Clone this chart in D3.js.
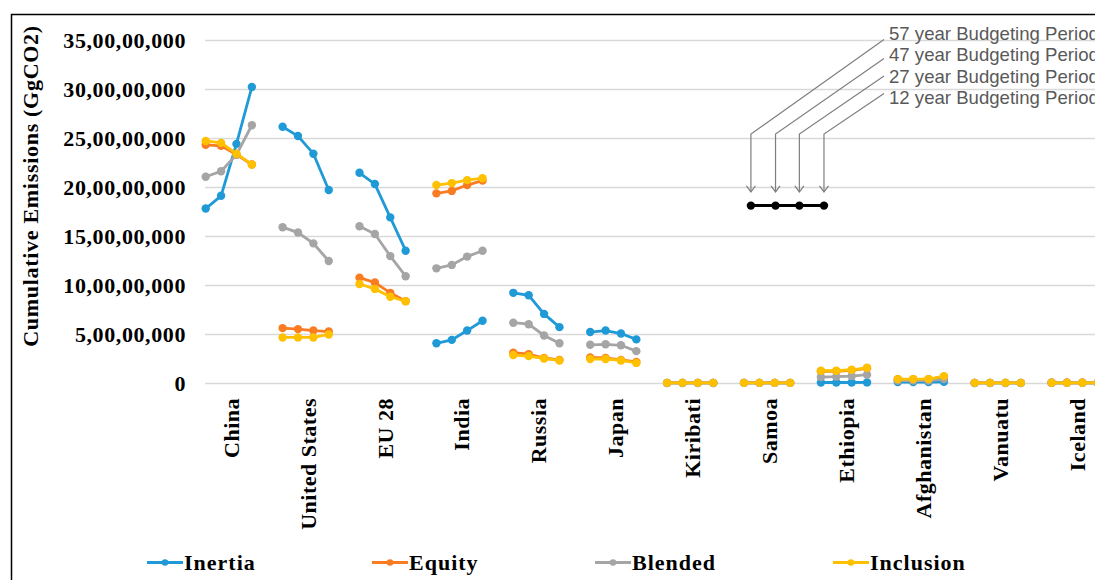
<!DOCTYPE html>
<html>
<head>
<meta charset="utf-8">
<script src="https://cdn.jsdelivr.net/npm/d3@7"></script>
<style>
  body { margin: 0; background: #fff; }
  svg { display: block; }
</style>
</head>
<body>
<div id="chart"></div>
<script>
// Countries along the x axis
const countries = ["China", "United States", "EU 28", "India", "Russia", "Japan",
  "Kiribati", "Samoa", "Ethiopia", "Afghanistan", "Vanuatu", "Iceland"];

// Budgeting periods, one point per period inside each country group
const periods = ["57 year Budgeting Period", "47 year Budgeting Period",
  "27 year Budgeting Period", "12 year Budgeting Period"];

// Cumulative emissions (GgCO2), 4 periods per country
const inertia = [
  [178e6, 191e6, 244e6, 302e6], [261.5e6, 252e6, 234e6, 197e6], [214.5e6, 203e6, 169e6, 135e6],
  [40.5e6, 44e6, 53.5e6, 63.5e6], [92e6, 89.5e6, 70.5e6, 57e6], [52e6, 53.5e6, 50.5e6, 44.5e6],
  [0.05e6, 0.05e6, 0.05e6, 0.05e6], [0.1e6, 0.1e6, 0.1e6, 0.1e6], [0.5e6, 0.5e6, 0.5e6, 0.6e6],
  [1e6, 1e6, 1e6, 1.2e6], [0.05e6, 0.05e6, 0.05e6, 0.05e6], [0.2e6, 0.2e6, 0.2e6, 0.2e6]
];
const equity = [
  [243e6, 242e6, 233e6, 223e6], [56e6, 55e6, 53.5e6, 52.5e6], [107.5e6, 102.5e6, 92e6, 83.5e6],
  [193.5e6, 196e6, 202e6, 206.5e6], [31e6, 29.5e6, 25.5e6, 23.5e6], [26e6, 25.5e6, 23.5e6, 21.5e6],
  [0.1e6, 0.1e6, 0.1e6, 0.1e6], [0.1e6, 0.1e6, 0.1e6, 0.1e6], [12e6, 12e6, 13e6, 15e6],
  [3.8e6, 3.8e6, 3.8e6, 6.5e6], [0.1e6, 0.1e6, 0.1e6, 0.1e6], [0.2e6, 0.2e6, 0.2e6, 0.2e6]
];
const blended = [
  [210.5e6, 216e6, 233e6, 263e6], [159e6, 153.5e6, 142.5e6, 124.5e6], [160e6, 152e6, 129.5e6, 109e6],
  [117e6, 120.5e6, 129e6, 135e6], [61.5e6, 60e6, 48.5e6, 40.5e6], [39e6, 39.5e6, 38.5e6, 32.5e6],
  [0.1e6, 0.1e6, 0.1e6, 0.1e6], [0.1e6, 0.1e6, 0.1e6, 0.1e6], [6e6, 6.5e6, 7e6, 8.5e6],
  [2.5e6, 2.5e6, 2.5e6, 4e6], [0.1e6, 0.1e6, 0.1e6, 0.1e6], [0.2e6, 0.2e6, 0.2e6, 0.2e6]
];
const inclusion = [
  [247e6, 245e6, 234e6, 223e6], [46.5e6, 46.5e6, 46.5e6, 49.5e6], [101e6, 96e6, 88e6, 83.5e6],
  [202e6, 204e6, 207e6, 209e6], [28.5e6, 27.5e6, 25e6, 23e6], [24.5e6, 24.5e6, 23e6, 20.5e6],
  [0.1e6, 0.1e6, 0.1e6, 0.1e6], [0.1e6, 0.1e6, 0.1e6, 0.1e6], [12.5e6, 12.5e6, 13.5e6, 15.5e6],
  [4e6, 4e6, 4e6, 7e6], [0.1e6, 0.1e6, 0.1e6, 0.1e6], [0.2e6, 0.2e6, 0.2e6, 0.2e6]
];

const seriesNames = ["Inertia", "Equity", "Blended", "Inclusion"];
const seriesColors = ["#1f9ad7", "#f97b22", "#a5a5a5", "#ffc000"];

// Y axis ticks
const yTicks = [0, 50e6, 100e6, 150e6, 200e6, 250e6, 300e6, 350e6];

// Hand-drawn key: four points on one level, in slot units of the x scale
const keySlots = [35.45, 37.05, 38.6, 40.2];
const keyValue = 181e6;
const keyElbowValue = 254e6;
const keyTipValue = 195e6;

class EmissionsChart {
  constructor(_config) {
    this.config = {
      parentElement: _config.parentElement,
      containerWidth: _config.containerWidth || 1095,
      containerHeight: _config.containerHeight || 580,
      plotLeft: 205.7,
      slotWidth: 15.38,
      yTop: 40,
      yBottom: 383
    }
    // 4 points per country and one empty slot between groups
    this.slotsPerGroup = 5;
    this.initVis();
  }

  initVis() {
    let vis = this;
    vis.svg = d3.select(vis.config.parentElement).append("svg")
      .attr("width", vis.config.containerWidth)
      .attr("height", vis.config.containerHeight);

    let nSlots = countries.length * vis.slotsPerGroup;
    vis.xScale = d3.scaleLinear()
      .domain([0, nSlots - 1])
      .range([vis.config.plotLeft, vis.config.plotLeft + (nSlots - 1) * vis.config.slotWidth]);

    vis.yScale = d3.scaleLinear()
      .domain([0, 350e6])
      .range([vis.config.yBottom, vis.config.yTop]);

    vis.renderVis();
  }

  // Indian digit grouping, e.g. 35,00,00,000
  formatIndian(v) {
    let s = String(Math.round(v));
    if (s.length <= 3) return s;
    let last3 = s.slice(-3);
    let rest = s.slice(0, -3).replace(/\B(?=(\d{2})+(?!\d))/g, ",");
    return rest + "," + last3;
  }

  renderVis() {
    let vis = this;
    const x = vis.xScale, y = vis.yScale;

    // outer frame
    vis.svg.append("rect")
      .attr("x", 11.5).attr("y", 14.5)
      .attr("width", 1200).attr("height", 700)
      .attr("fill", "none").attr("stroke", "#000").attr("stroke-width", 1.5);

    // gridlines + y axis labels
    const yAxis = d3.axisLeft(y)
      .tickValues(yTicks)
      .tickSize(-(vis.config.containerWidth - vis.config.plotLeft + 20))
      .tickPadding(19)
      .tickFormat(d => vis.formatIndian(d));

    const yG = vis.svg.append("g")
      .attr("transform", `translate(${vis.config.plotLeft - 0.7},0)`)
      .call(yAxis);
    yG.select(".domain").remove();
    yG.selectAll(".tick line").attr("stroke", "#d9d9d9").attr("stroke-width", 1.3);
    yG.selectAll(".tick text")
      .attr("font-family", "'Liberation Serif', 'Times New Roman', serif")
      .attr("font-weight", "bold")
      .attr("font-size", 22)
      .attr("letter-spacing", 0.6)
      .attr("fill", "#000");

    // y axis title
    vis.svg.append("text")
      .attr("transform", "translate(38,186) rotate(-90)")
      .attr("text-anchor", "middle")
      .attr("font-family", "'Liberation Serif', 'Times New Roman', serif")
      .attr("font-weight", "bold")
      .attr("font-size", 22)
      .attr("letter-spacing", 0.7)
      .text("Cumulative Emissions (GgCO2)");

    // country labels
    vis.svg.append("g").selectAll("text")
      .data(countries)
      .join("text")
      .attr("transform", (d, i) => `translate(${x(i * vis.slotsPerGroup + 1.5) + 10},398) rotate(-90)`)
      .attr("text-anchor", "end")
      .attr("font-family", "'Liberation Serif', 'Times New Roman', serif")
      .attr("font-weight", "bold")
      .attr("font-size", 22)
      .attr("letter-spacing", 0.5)
      .text(d => d);

    // series lines, one path per country group
    const line = d3.line()
      .x(d => x(d.slot))
      .y(d => y(d.value));

    const allSeries = [inertia, equity, blended, inclusion].map((arr, si) => ({
      name: seriesNames[si],
      color: seriesColors[si],
      groups: arr.map((vals, ci) => vals.map((v, pi) => ({ slot: ci * vis.slotsPerGroup + pi, value: v })))
    }));

    const seriesG = vis.svg.append("g").selectAll("g")
      .data(allSeries)
      .join("g")
      .attr("fill", d => d.color)
      .attr("stroke", d => d.color);

    seriesG.selectAll("path")
      .data(d => d.groups)
      .join("path")
      .attr("d", line)
      .attr("fill", "none")
      .attr("stroke-width", 2.8);

    seriesG.selectAll("circle")
      .data(d => d.groups.flat())
      .join("circle")
      .attr("cx", d => x(d.slot))
      .attr("cy", d => y(d.value))
      .attr("r", 4.2)
      .attr("stroke", "none");

    // key for the budgeting periods
    const key = vis.svg.append("g");
    const textX = 889;
    const textBase = [39.5, 61, 82.5, 104];
    const connY = [39.5, 58.5, 76, 93.5];

    key.selectAll("text")
      .data(periods)
      .join("text")
      .attr("x", textX)
      .attr("y", (d, i) => textBase[i])
      .attr("font-family", "'Liberation Sans', Arial, sans-serif")
      .attr("font-size", 18.6)
      .attr("fill", "#595959")
      .text(d => d);

    key.selectAll("path.conn")
      .data(keySlots)
      .join("path")
      .attr("class", "conn")
      .attr("d", (d, i) => `M${textX - 5},${connY[i]} L${x(d)},${y(keyElbowValue)} L${x(d)},${y(keyTipValue)}`)
      .attr("fill", "none")
      .attr("stroke", "#7f7f7f")
      .attr("stroke-width", 1.2);

    key.selectAll("path.head")
      .data(keySlots)
      .join("path")
      .attr("class", "head")
      .attr("d", d => `M${x(d) - 4.5},${y(keyTipValue) - 6} L${x(d)},${y(keyTipValue)} L${x(d) + 4.5},${y(keyTipValue) - 6}`)
      .attr("fill", "none")
      .attr("stroke", "#7f7f7f")
      .attr("stroke-width", 1.2);

    key.append("path")
      .attr("d", d3.line()(keySlots.map(s => [x(s), y(keyValue)])))
      .attr("stroke", "#000")
      .attr("stroke-width", 3)
      .attr("fill", "none");

    key.selectAll("circle")
      .data(keySlots)
      .join("circle")
      .attr("cx", d => x(d))
      .attr("cy", y(keyValue))
      .attr("r", 4.2)
      .attr("fill", "#000");

    // legend
    const legendX = [147, 372, 595, 833];
    const legend = vis.svg.append("g").selectAll("g")
      .data(allSeries)
      .join("g")
      .attr("transform", (d, i) => `translate(${legendX[i]},562.5)`);

    legend.append("line")
      .attr("x1", 0).attr("x2", 36)
      .attr("stroke", d => d.color)
      .attr("stroke-width", 2.8);
    legend.append("circle")
      .attr("cx", 18).attr("r", 3.3)
      .attr("fill", d => d.color);
    legend.append("text")
      .attr("x", 37)
      .attr("dy", "0.34em")
      .attr("font-family", "'Liberation Serif', 'Times New Roman', serif")
      .attr("font-weight", "bold")
      .attr("font-size", 22)
      .attr("letter-spacing", 1)
      .text(d => d.name);
  }
}

new EmissionsChart({ parentElement: "#chart" });
</script>
</body>
</html>
